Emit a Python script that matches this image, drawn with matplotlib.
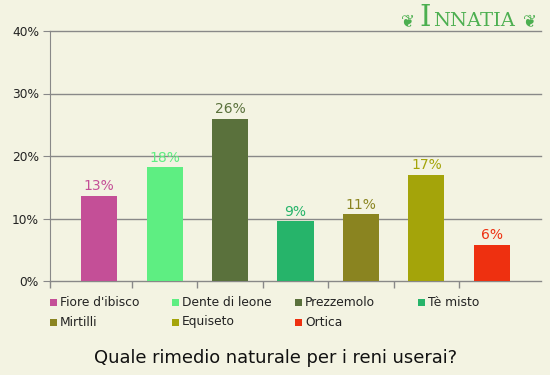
import matplotlib
matplotlib.use("Agg")
import matplotlib.pyplot as plt
from matplotlib.patches import Rectangle
from matplotlib.ticker import FuncFormatter

categories = ["Fiore d'ibisco", "Dente di leone", "Prezzemolo", "Tè misto",
              "Mirtilli", "Equiseto", "Ortica"]
values = [13.6, 18.2, 26.0, 9.6, 10.7, 17.0, 5.8]
labels = ["13%", "18%", "26%", "9%", "11%", "17%", "6%"]
colors = ["#C44F97", "#5EEE82", "#5A713C", "#26B46A", "#8A8420", "#A4A40A", "#EE3010"]
yticks = [0, 10, 20, 30, 40]
title = "Quale rimedio naturale per i reni userai?"

bg = "#F3F3E2"
W, H = 550, 375
fig = plt.figure(figsize=(5.5, 3.75), dpi=100, facecolor=bg)
ax = fig.add_axes([50 / W, 1 - 281 / H, 491 / W, 250 / H], facecolor=bg)

x = list(range(len(categories)))
for t in yticks:
    ax.axhline(t, color="#888888", linewidth=1, zorder=0, clip_on=False)
ax.bar(x, values, width=0.55, color=colors, zorder=3)
for xi, v, lab, c in zip(x, values, labels, colors):
    ax.text(xi, v + 0.4, lab, ha="center", va="bottom", color=c, fontsize=10, zorder=4)

ax.set_xlim(-0.75, 6.75)
ax.set_ylim(0, 40)
ax.set_yticks(yticks)
ax.yaxis.set_major_formatter(FuncFormatter(lambda v, p: f"{int(v)}%"))
bounds = [-0.75] + [i + 0.5 for i in range(len(categories) - 1)]
ax.set_xticks(bounds)
ax.set_xticklabels([])
ax.tick_params(axis="x", colors="#888888", length=5, width=1)
for s in ["top", "right", "bottom"]:
    ax.spines[s].set_visible(False)
ax.spines["left"].set_color("#888888")
ax.spines["left"].set_bounds(0, 40)
ax.tick_params(axis="y", colors="#888888", labelcolor="#222222", labelsize=8.8, length=5, pad=3)

# legend (manual)
col_x = [50, 172, 295, 418]
row_y = [302, 322]
for i, (cat, c) in enumerate(zip(categories, colors)):
    r, k = divmod(i, 4)
    px, py = col_x[k], row_y[r]
    fig.patches.append(Rectangle((px / W, 1 - (py + 4) / H), 7 / W, 7 / H,
                                 transform=fig.transFigure, facecolor=c, edgecolor="none"))
    fig.text((px + 10) / W, 1 - py / H, cat, fontsize=8.8, color="#222222", va="center", ha="left")

fig.text(276 / W, 1 - 358 / H, title, fontsize=12.9, color="#111111", ha="center", va="center")

# logo
fig.text(419 / W, 1 - 18 / H, "I", fontsize=21, color="#4CAF50", family="DejaVu Serif",
         ha="left", va="center")
fig.text(433 / W, 1 - 21 / H, "NNATIA", fontsize=14, color="#4CAF50", family="DejaVu Serif",
         ha="left", va="center")
fig.text(408 / W, 1 - 21 / H, "❦", fontsize=12, color="#4CAF50", ha="center", va="center")
fig.text(530 / W, 1 - 21 / H, "❦", fontsize=12, color="#4CAF50", ha="center", va="center")

fig.savefig("out.png", dpi=100, facecolor=bg)
